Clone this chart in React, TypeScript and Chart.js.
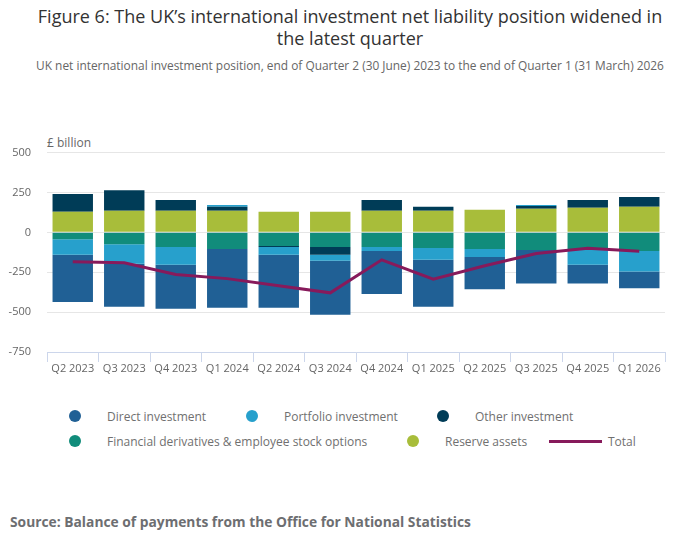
import { useEffect, useRef } from "react"
import { Chart, registerables } from "chart.js"

Chart.register(...registerables)

const quarters = [
  "Q2 2023", "Q3 2023", "Q4 2023", "Q1 2024", "Q2 2024", "Q3 2024",
  "Q4 2024", "Q1 2025", "Q2 2025", "Q3 2025", "Q4 2025", "Q1 2026",
]

// £ billion
const directInvestment = [-295, -270, -276, -369, -332, -338, -270, -295, -203, -209, -117, -104]
const portfolioInvestment = [-98, -123, -111, 12, -49, -37, -25, -74, -50, 6, -92, -129]
const otherInvestment = [111, 129, 68, 25, -6, -49, 68, 25, 0, 18, 49, 61]
const derivatives = [-43, -74, -92, -104, -86, -92, -92, -98, -104, -111, -111, -117]
const reserveAssets = [129, 135, 135, 135, 129, 129, 135, 135, 141, 148, 154, 160]
const total = [-184, -191, -264, -290, -335, -379, -172, -293, -209, -133, -100, -119]

const yTicks = [-750, -500, -250, 0, 250, 500]

const COLORS = {
  direct: "#206095",
  portfolio: "#27a0cc",
  other: "#003c57",
  derivatives: "#118c7b",
  reserve: "#a8bd3a",
  total: "#871a5b",
}

const FONT = "'Open Sans', 'Noto Sans', sans-serif"

// legend rows: [label, colour, marker kind, left of marker]
const legendRows: [string, string, "dot" | "line", number][][] = [
  [
    ["Direct investment", COLORS.direct, "dot", 69],
    ["Portfolio investment", COLORS.portfolio, "dot", 246],
    ["Other investment", COLORS.other, "dot", 437],
  ],
  [
    ["Financial derivatives & employee stock options", COLORS.derivatives, "dot", 69],
    ["Reserve assets", COLORS.reserve, "dot", 407],
    ["Total", COLORS.total, "line", 549],
  ],
]

function NiipChart() {
  const canvasRef = useRef<HTMLCanvasElement>(null)
  const chartRef = useRef<Chart | null>(null)

  useEffect(() => {
    if (!canvasRef.current) return
    if (chartRef.current) chartRef.current.destroy()

    const barBase = {
      type: "bar" as const,
      categoryPercentage: 0.785,
      barPercentage: 1,
      borderWidth: 0,
    }

    chartRef.current = new Chart(canvasRef.current, {
      type: "bar",
      data: {
        labels: quarters,
        datasets: [
          {
            type: "line",
            label: "Total",
            data: total,
            borderColor: COLORS.total,
            backgroundColor: COLORS.total,
            borderWidth: 3,
            pointRadius: 0,
            tension: 0,
            stack: "total",
          },
          // stacked outward from zero in this order
          { ...barBase, label: "Reserve assets", data: reserveAssets, backgroundColor: COLORS.reserve },
          { ...barBase, label: "Financial derivatives & employee stock options", data: derivatives, backgroundColor: COLORS.derivatives },
          { ...barBase, label: "Other investment", data: otherInvestment, backgroundColor: COLORS.other },
          { ...barBase, label: "Portfolio investment", data: portfolioInvestment, backgroundColor: COLORS.portfolio },
          { ...barBase, label: "Direct investment", data: directInvestment, backgroundColor: COLORS.direct },
        ] as any,
      },
      options: {
        responsive: false,
        animation: false,
        layout: { padding: { top: 20, right: 35, left: 0, bottom: 0 } },
        plugins: {
          legend: { display: false },
          tooltip: { enabled: false },
        },
        scales: {
          x: {
            stacked: true,
            offset: true,
            afterFit: (scale) => {
              scale.height = 38
            },
            grid: {
              drawOnChartArea: false,
              drawTicks: true,
              tickLength: 10,
              color: "#ccd6eb",
              offset: true,
            },
            border: { color: "#ccd6eb", width: 1 },
            ticks: {
              padding: 0,
              color: "#666666",
              font: { family: FONT, size: 11 },
              maxRotation: 0,
              autoSkip: false,
            },
          },
          y: {
            stacked: true,
            min: yTicks[0],
            max: yTicks[yTicks.length - 1],
            afterFit: (scale) => {
              scale.width = 47
            },
            afterBuildTicks: (scale) => {
              scale.ticks = yTicks.map((v) => ({ value: v }))
            },
            grid: { color: "#e6e6e6", drawTicks: false, lineWidth: 1 },
            border: { display: false },
            ticks: {
              padding: 16,
              color: "#666666",
              font: { family: FONT, size: 11 },
            },
          },
        },
      },
    })

    return () => {
      if (chartRef.current) {
        chartRef.current.destroy()
        chartRef.current = null
      }
    }
  }, [])

  return <canvas ref={canvasRef} width={700} height={260} style={{ position: "absolute", left: 0, top: 130 }} />
}

export default function App() {
  useEffect(() => {
    document.body.style.margin = "0"
  }, [])

  return (
    <div style={{ position: "relative", width: 700, height: 549, background: "#fff", fontFamily: FONT, overflow: "hidden" }}>
      <div style={{ position: "absolute", top: 5, left: 0, width: 700, textAlign: "center", fontSize: 18, lineHeight: "22px", color: "#333333" }}>
        Figure 6: The UK’s international investment net liability position widened in
        <br />
        the latest quarter
      </div>
      <div style={{ position: "absolute", top: 57, left: 0, width: 700, textAlign: "center", fontSize: 11.9, lineHeight: "16px", color: "#666666" }}>
        UK net international investment position, end of Quarter 2 (30 June) 2023 to the end of Quarter 1 (31 March) 2026
      </div>
      <div style={{ position: "absolute", top: 135, left: 47, fontSize: 12, lineHeight: "16px", color: "#666666" }}>£ billion</div>

      <NiipChart />

      {legendRows.map((row, r) =>
        row.map(([label, color, kind, left]) => (
          <div
            key={label}
            style={{ position: "absolute", top: 408 + r * 25, left, height: 16, display: "flex", alignItems: "center", fontSize: 12, color: "#707070", whiteSpace: "nowrap" }}
          >
            {kind === "dot" ? (
              <span style={{ display: "inline-block", width: 12, height: 12, borderRadius: "50%", background: color, marginRight: 26 }} />
            ) : (
              <span style={{ display: "inline-block", width: 53, height: 3, background: color, marginRight: 6 }} />
            )}
            <span>{label}</span>
          </div>
        ))
      )}

      <div style={{ position: "absolute", top: 512, left: 10, fontSize: 13.8, fontWeight: 700, lineHeight: "19px", color: "#6d6e71" }}>
        Source: Balance of payments from the Office for National Statistics
      </div>
    </div>
  )
}
